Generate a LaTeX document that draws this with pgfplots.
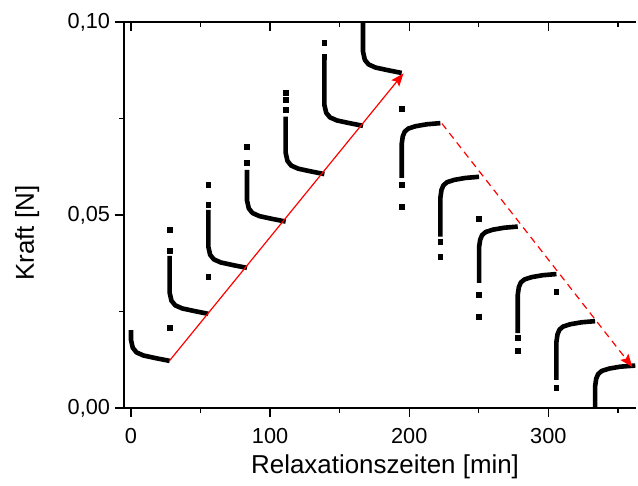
\documentclass[border=0pt]{standalone}
\usepackage{fontspec}
\setmainfont{Liberation Sans}
\usepackage{pgfplots}
\pgfplotsset{compat=1.18}
\usetikzlibrary{arrows.meta}
\begin{document}
\begin{tikzpicture}
\pgfplotsset{
  common/.style={
    scale only axis, width=256bp, height=193bp,
    xmin=-5, xmax=363, ymin=0, ymax=0.10,
    xtick={0,100,200,300}, minor xtick={50,150,250,350},
    axis line style={line width=0.7bp},
    every tick/.style={line width=0.7bp, black},
    major tick length=4.5bp, minor tick length=2.5bp,
  }
}
\begin{axis}[common,
  axis x line*=bottom, axis y line*=left,
  tick align=outside,
  ytick={0,0.05,0.10}, minor ytick={0.025,0.075},
  scaled y ticks=false,
  /pgf/number format/assume math mode=true,
  ticklabel style={font=\fontsize{10.9}{12}\selectfont},
  xticklabel style={yshift=-2bp},
  yticklabel style={xshift=1bp, /pgf/number format/.cd, fixed, fixed zerofill, precision=2, use comma},
  xlabel={Relaxationszeiten [min]}, ylabel={Kraft [N]},
  label style={font=\fontsize{13}{15}\selectfont},
  xlabel style={at={(axis description cs:0.51,-0.153)}, anchor=center},
  ylabel style={at={(axis description cs:-0.189,0.453)}, anchor=center, rotate=0},
]
\coordinate (sw) at (rel axis cs:0,0);
\coordinate (ne) at (rel axis cs:1,1);
% up segments
\pgfplotsset{seg/.style={black, line width=2.3bp, line join=round, line cap=butt}}
\addplot[seg] coordinates {(0,0.0202) (0,0.0177) (1.3,0.0156) (4,0.0144) (9,0.0136) (18,0.0129) (27.8,0.0122)};
\addplot[seg] coordinates {(27.8,0.0394) (27.8,0.0299) (29.1,0.0278) (31.8,0.0266) (36.8,0.0258) (45.8,0.0251) (55.6,0.0244)};
\addplot[seg] coordinates {(55.6,0.0513) (55.6,0.0418) (56.9,0.0397) (59.6,0.0385) (64.6,0.0377) (73.6,0.0370) (83.4,0.0363)};
\addplot[seg] coordinates {(83.4,0.0617) (83.4,0.0538) (84.7,0.0517) (87.4,0.0505) (92.4,0.0497) (101.4,0.0490) (111.2,0.0483)};
\addplot[seg] coordinates {(111.2,0.0755) (111.2,0.0661) (112.5,0.0640) (115.2,0.0628) (120.2,0.0620) (129.2,0.0613) (139.0,0.0606)};
\addplot[seg] coordinates {(139.0,0.0902) (139.0,0.0786) (140.3,0.0765) (143.0,0.0753) (148.0,0.0745) (157.0,0.0738) (166.8,0.0731)};
\addplot[seg] coordinates {(166.8,0.106) (166.8,0.0923) (168.1,0.0902) (170.8,0.0890) (175.8,0.0882) (184.8,0.0875) (194.6,0.0868)};
% down segments
\addplot[seg] coordinates {(194.6,0.0596) (194.6,0.0684) (195.4,0.0704) (196.8,0.0716) (199.4,0.0724) (204.6,0.0730) (212.6,0.0735) (222.4,0.0738)};
\addplot[seg] coordinates {(222.4,0.0444) (222.4,0.0545) (223.2,0.0565) (224.6,0.0577) (227.2,0.0585) (232.4,0.0591) (240.4,0.0596) (250.2,0.0599)};
\addplot[seg] coordinates {(250.2,0.0324) (250.2,0.0416) (251.0,0.0436) (252.4,0.0448) (255.0,0.0456) (260.2,0.0462) (268.2,0.0467) (278.0,0.0470)};
\addplot[seg] coordinates {(278.0,0.0194) (278.0,0.0293) (278.8,0.0313) (280.2,0.0325) (282.8,0.0333) (288.0,0.0339) (296.0,0.0344) (305.8,0.0347)};
\addplot[seg] coordinates {(305.8,0.0073) (305.8,0.0171) (306.6,0.0191) (308.0,0.0203) (310.6,0.0211) (315.8,0.0217) (323.8,0.0222) (333.6,0.0225)};
\addplot[seg] coordinates {(333.6,-0.006) (333.6,0.0056) (334.4,0.0076) (335.8,0.0088) (338.4,0.0096) (343.6,0.0102) (351.6,0.0107) (362.5,0.0110)};
% isolated points
\addplot[only marks, mark=square*, mark size=1.2bp, black] coordinates {
 (27.8,0.0207) (27.8,0.0461) (27.8,0.0407)
 (55.6,0.0340) (55.6,0.0578) (55.6,0.0526)
 (83.4,0.0676) (83.4,0.0635)
 (111.2,0.0817) (111.2,0.0798) (111.2,0.0772)
 (139.0,0.0946) (139.0,0.0910)
 (194.6,0.0775) (194.6,0.0578) (194.6,0.0522)
 (222.4,0.0430) (222.4,0.0392)
 (250.2,0.0490) (250.2,0.0293) (250.2,0.0237)
 (278.0,0.0181) (278.0,0.0148)
 (305.8,0.0301) (305.8,0.0052)
};
% red arrows
\addplot[red, line width=0.6bp, -{Stealth[length=6.5bp,width=5bp,inset=1.2bp]}] coordinates {(27.6,0.0122) (195.9,0.0867)};
\addplot[red, line width=0.6bp, dash pattern=on 3.5bp off 2.5bp, -{Stealth[length=6.5bp,width=5bp,inset=1.2bp]}] coordinates {(223.5,0.0737) (360.4,0.0106)};
\end{axis}
\begin{axis}[common,
  axis x line*=top, axis y line=none,
  tick align=inside, xticklabels={}, ytick=\empty,
]
\end{axis}
\pgfresetboundingbox
\path ([shift={(-62bp,-39bp)}]sw) rectangle ([shift={(1bp,11bp)}]ne);
\end{tikzpicture}
\end{document}
